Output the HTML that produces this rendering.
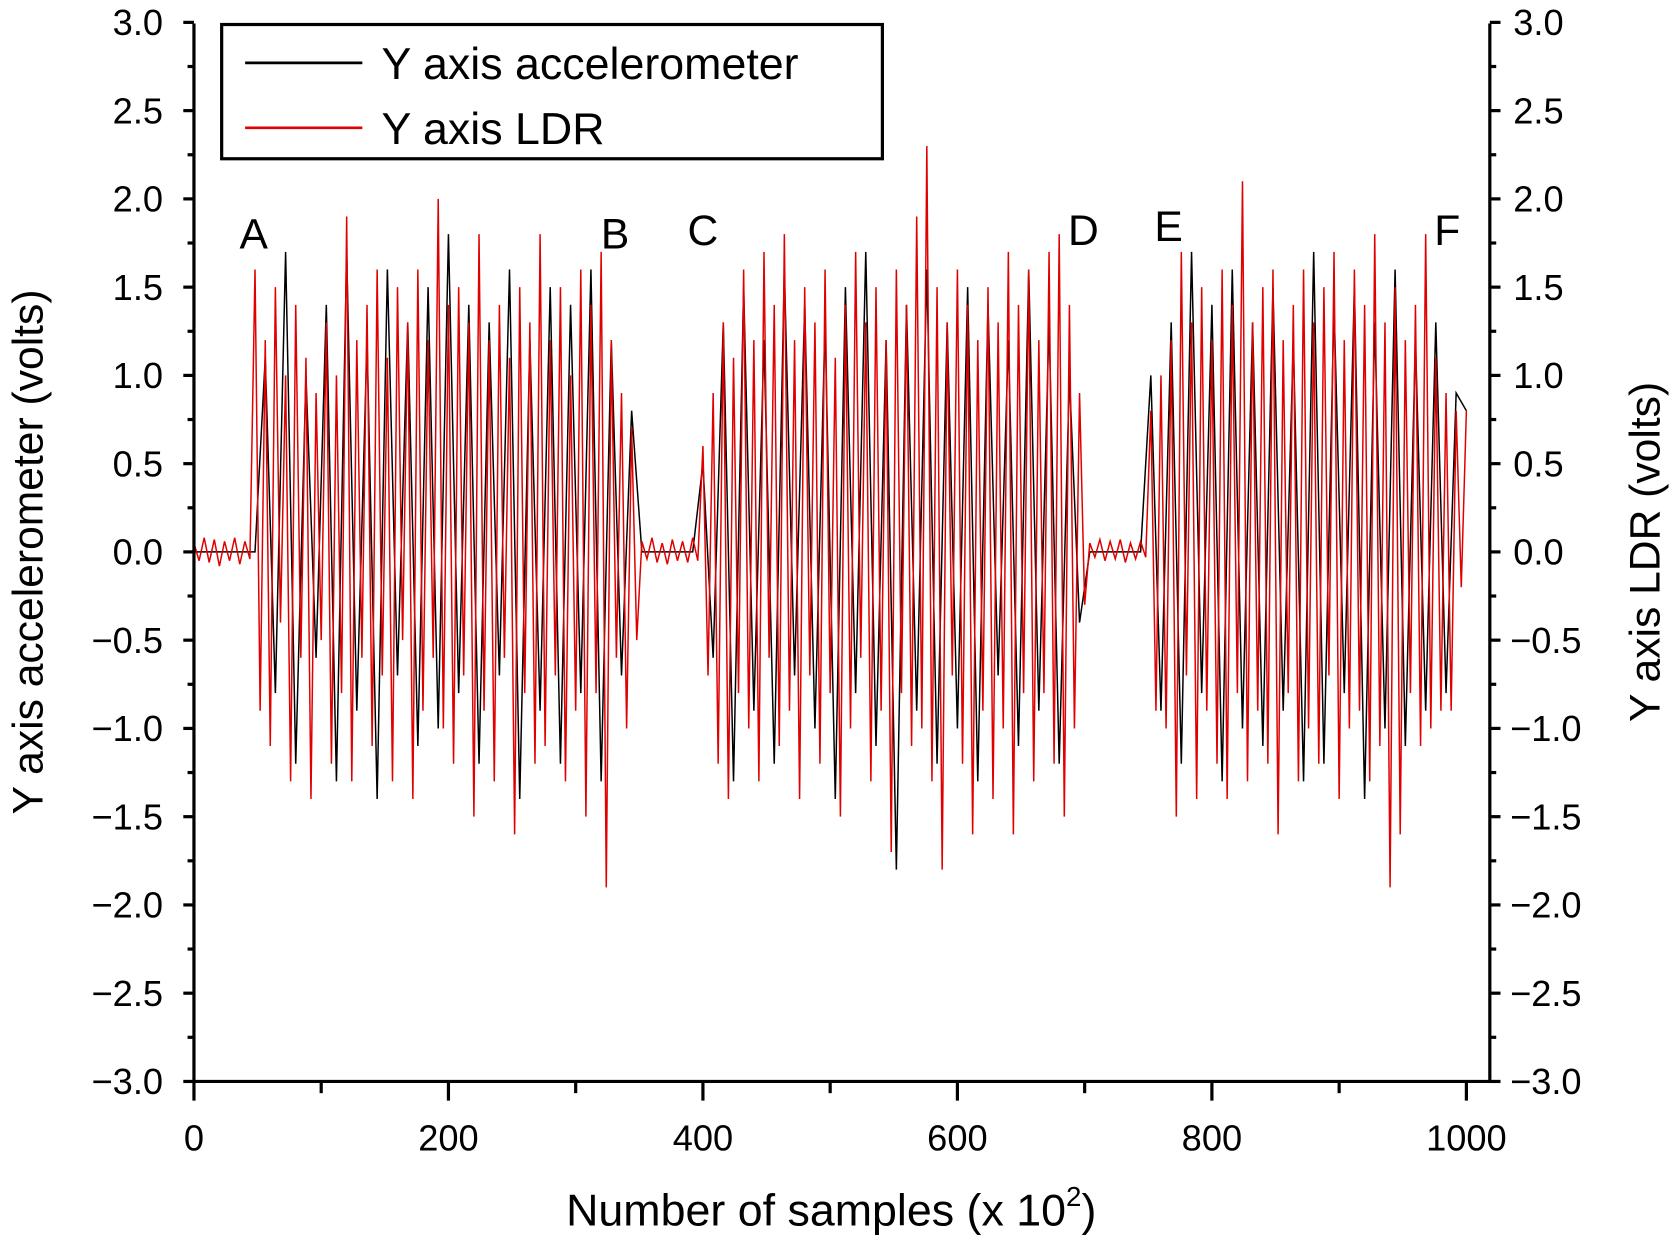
<!DOCTYPE html>
<html><head><meta charset="utf-8"><style>
html,body{margin:0;padding:0;background:#fff}
svg{display:block}
text{font-family:"Liberation Sans",sans-serif;fill:#000}
</style></head><body>
<svg id="chart" width="1671" height="1237" viewBox="0 0 1568 1161" preserveAspectRatio="none" xmlns="http://www.w3.org/2000/svg">
<rect width="1568" height="1161" fill="#fff"/>
<g id="series"></g>
<g id="axes"></g>
<g>
<rect x="208" y="23" width="620" height="126" fill="#fff" stroke="#000" stroke-width="3"/>
<line x1="230" y1="59" x2="340" y2="59" stroke="#000" stroke-width="2.5"/>
<text x="358" y="74" font-size="42">Y axis accelerometer</text>
<line x1="230" y1="120" x2="340" y2="120" stroke="#e00000" stroke-width="2.5"/>
<text x="358" y="135" font-size="42">Y axis LDR</text>
</g>
<text x="780" y="1150" font-size="42" text-anchor="middle">Number of samples (x 10<tspan font-size="26" dy="-18">2</tspan><tspan dy="18">)</tspan></text>
<text transform="translate(40,518) rotate(-90)" font-size="40" text-anchor="middle">Y axis accelerometer (volts)</text>
<text transform="translate(1557,518) rotate(-90)" font-size="40" text-anchor="middle">Y axis LDR (volts)</text>
</svg>
<script>
const redValues=[0.05,-0.05,0.08,-0.06,0.07,-0.08,0.06,-0.05,0.08,-0.07,0.06,-0.04,
1.6,-0.9,1.2,-1.1,1.5,-0.4,1.0,-1.3,1.4,-0.6,1.1,-1.4,0.9,-0.5,1.3,-1.2,1.0,-0.8,1.9,-1.3,1.2,-0.6,1.4,-1.1,1.6,-0.7,1.1,-1.3,1.5,-0.5,1.3,-1.4,1.6,-0.9,1.2,-0.6,2.0,-1.0,1.4,-1.2,1.5,-0.7,1.3,-1.5,1.8,-0.9,1.2,-1.3,1.4,-0.6,1.1,-1.6,1.5,-0.8,1.3,-1.2,1.8,-1.1,1.2,-0.7,1.5,-1.3,1.0,-0.9,1.6,-1.5,1.4,-0.8,1.7,-1.9,1.2,-0.6,0.9,-1.0,0.7,-0.5,
0.06,-0.04,0.08,-0.06,0.05,-0.07,0.07,-0.05,0.06,-0.06,0.08,-0.05,
0.6,-0.7,0.9,-1.2,1.3,-1.4,1.1,-0.8,1.6,-1.0,1.2,-1.3,1.7,-0.6,1.4,-1.1,1.8,-0.9,1.2,-1.4,1.5,-0.7,1.3,-1.2,1.6,-0.8,1.1,-1.5,1.4,-1.0,1.7,-0.6,1.3,-1.3,1.5,-0.9,1.2,-1.7,1.6,-0.8,1.4,-1.1,1.9,-1.0,2.3,-1.3,1.5,-1.8,1.3,-0.7,1.6,-1.2,1.4,-1.6,1.2,-0.9,1.5,-1.4,1.3,-1.0,1.7,-1.6,1.4,-0.8,1.6,-1.3,1.2,-0.8,1.7,-1.2,1.8,-1.5,1.4,-1.0,0.9,-0.3,
0.05,-0.03,0.07,-0.05,0.06,-0.04,0.07,-0.06,0.05,-0.04,0.06,-0.03,
0.8,-0.9,1.0,-1.0,1.2,-1.5,1.7,-0.7,1.3,-1.4,1.5,-0.9,1.2,-1.2,1.6,-1.4,1.4,-0.8,2.1,-1.3,1.3,-0.9,1.5,-1.2,1.6,-1.6,1.2,-0.8,1.4,-1.3,1.6,-1.0,1.3,-1.2,1.5,-0.7,1.7,-1.4,1.2,-1.0,1.6,-0.9,1.4,-1.3,1.8,-1.1,1.3,-1.9,1.5,-1.6,1.2,-0.8,1.4,-1.1,1.8,-1.0,1.1,-0.9,0.9,-0.9,0.8,-0.2,0.8];
const blackValues=[0,0,0,0,0,0,0,
1.1,-0.8,1.7,-1.2,1.0,-0.6,1.4,-1.3,1.7,-0.9,1.2,-1.4,1.6,-0.7,1.3,-1.1,1.5,-1.0,1.8,-0.8,1.4,-1.2,1.3,-0.7,1.6,-1.4,1.2,-0.9,1.5,-1.2,1.4,-0.8,1.6,-1.3,1.2,-0.7,0.8,
0,0,0,0,0,0,
0.5,-0.6,1.3,-1.3,1.5,-0.9,1.2,-1.2,1.6,-0.7,1.4,-1.0,1.3,-1.4,1.5,-0.8,1.7,-1.1,1.2,-1.8,1.4,-0.9,1.6,-1.2,1.3,-1.0,1.5,-1.3,1.4,-0.7,1.2,-1.1,1.6,-0.9,1.3,-1.2,1.0,-0.4,
0,0,0,0,0,0,
1.0,-0.9,1.3,-1.2,1.7,-0.8,1.4,-1.3,1.6,-1.0,1.3,-1.1,1.5,-0.9,1.2,-1.3,1.7,-1.2,1.4,-0.8,1.5,-1.4,1.3,-1.0,1.6,-1.1,1.2,-0.9,1.3,-0.8,0.9,0.8];
const xTickLabels=["0","200","400","600","800","1000"];
const yTickLabels=["3.0","2.5","2.0","1.5","1.0","0.5","0.0","\u22120.5","\u22121.0","\u22121.5","\u22122.0","\u22122.5","\u22123.0"];
const segmentLabels=["A","B","C","D","E","F"];
const segmentLabelX=[47,331,400,699,766,985];
const segmentLabelY=[1.72,1.72,1.74,1.74,1.76,1.74];

const NS="http://www.w3.org/2000/svg";
const L=182,R=1398,T=22,B=1015;
function xs(v){return 182+v*(1376-182)/1000;}
function ys(v){return 518-v*(B-518)/3;}
function mk(tag,attrs,parent){const e=document.createElementNS(NS,tag);for(const k in attrs)e.setAttribute(k,attrs[k]);parent.appendChild(e);return e;}
const sg=document.getElementById('series');
const ag=document.getElementById('axes');
function poly(vals,color,name){
  const n=vals.length;
  const pts=vals.map((v,i)=>xs(i*1000/(n-1)).toFixed(1)+","+ys(v).toFixed(1)).join(" ");
  const p=mk('polyline',{points:pts,fill:"none",stroke:color,"stroke-width":1.4,"stroke-linejoin":"miter"},sg);
  
  
}
poly(blackValues,"#000","accelerometer-line");
poly(redValues,"#e00000","ldr-line");
segmentLabels.forEach((s,i)=>{
  const t=mk('text',{x:xs(segmentLabelX[i]),y:ys(segmentLabelY[i]),"font-size":40,"text-anchor":"middle"},sg);
  t.textContent=s;
  
  
});
const frame=mk('path',{d:`M${L},${T} L${L},${B} L${R},${B} L${R},${T}`,fill:"none",stroke:"#000","stroke-width":3},ag);


for(let k=0;k<=24;k++){
  const v=3-k*0.25,y=ys(v),maj=k%2===0;
  mk('line',{x1:L-(maj?10:6),y1:y,x2:L,y2:y,stroke:"#000","stroke-width":3},ag);
  mk('line',{x1:R,y1:y,x2:R+(maj?10:6),y2:y,stroke:"#000","stroke-width":3},ag);
}
yTickLabels.forEach((s,i)=>{
  const y=ys(3-i*0.5)+12;
  const a=mk('text',{x:153,y:y,"font-size":34,"text-anchor":"end"},ag);
  a.textContent=s;
  
  
  const b=mk('text',{x:(s.charAt(0)==="\u2212"?1417:1420),y:y,"font-size":34,"text-anchor":"start"},ag);
  b.textContent=s;
  
  
});
for(let k=0;k<=10;k++){
  const x=xs(k*100),maj=k%2===0;
  mk('line',{x1:x,y1:B,x2:x,y2:B+(maj?18:11),stroke:"#000","stroke-width":3},ag);
}
xTickLabels.forEach((s,i)=>{
  const t=mk('text',{x:xs(i*200),y:1080,"font-size":34,"text-anchor":"middle"},ag);
  t.textContent=s;
  
  
});
</script>
</body></html>
